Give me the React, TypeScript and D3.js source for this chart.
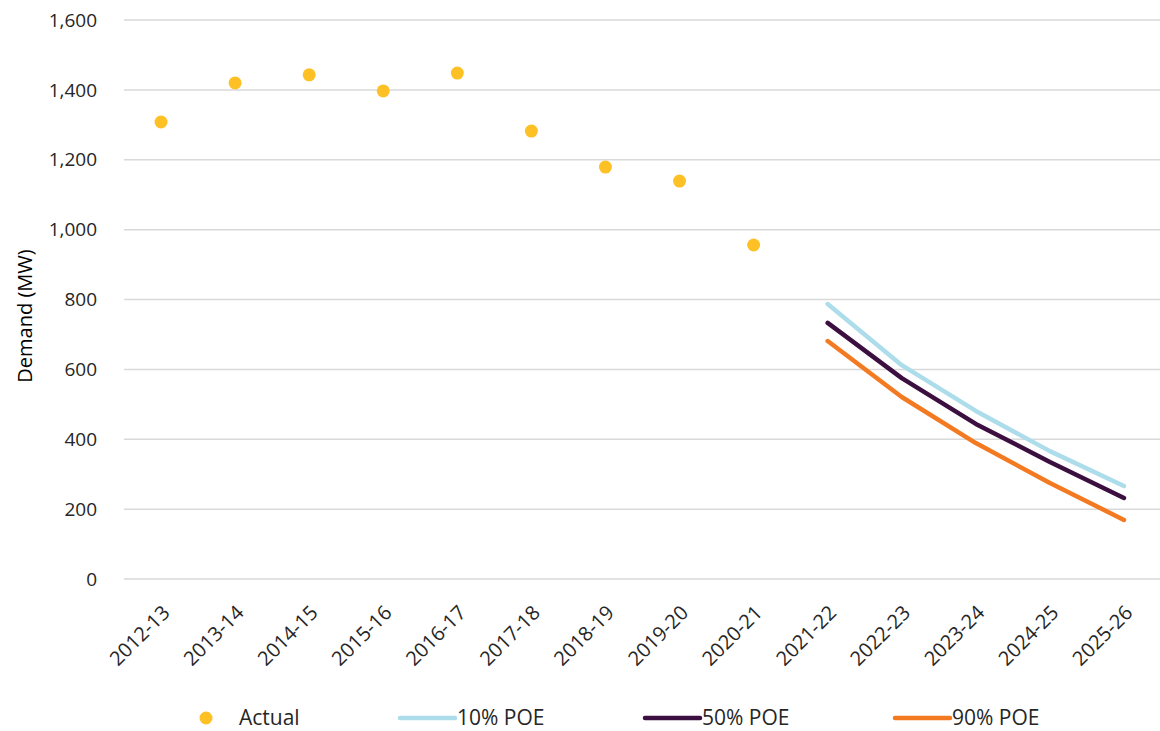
import React from "react";
import * as d3 from "d3";

const categories = [
  "2012-13", "2013-14", "2014-15", "2015-16", "2016-17", "2017-18", "2018-19",
  "2019-20", "2020-21", "2021-22", "2022-23", "2023-24", "2024-25", "2025-26",
];
const actualYears = categories.slice(0, 9);
const actualValues = [1308, 1420, 1443, 1397, 1448, 1282, 1179, 1139, 956];
const forecastYears = categories.slice(9);
const poe10 = [787, 612, 481, 366, 266];
const poe50 = [733, 575, 444, 335, 232];
const poe90 = [681, 521, 389, 275, 169];
const yTicks = [0, 200, 400, 600, 800, 1000, 1200, 1400, 1600];

const W = 1160;
const H = 731;
const left = 124;
const right = 1161;
const top = 20;
const bottom = 579;
const font = "'Segoe UI', 'Open Sans', 'Noto Sans', sans-serif";
const textColor = "#262626";

const x = d3.scaleBand<string>().domain(categories).range([left, right]).padding(0);
const y = d3.scaleLinear().domain([0, 1600]).range([bottom, top]);
const cx = (c: string) => (x(c) ?? 0) + x.bandwidth() / 2;

const lineGen = d3
  .line<[string, number]>()
  .x((d) => cx(d[0]))
  .y((d) => y(d[1]));

const forecastSeries = [
  { name: "10% POE", values: poe10, color: "#ADDDEB" },
  { name: "50% POE", values: poe50, color: "#3B0F3F" },
  { name: "90% POE", values: poe90, color: "#F47A22" },
];

const fmt = d3.format(",");

export default function App() {
  return (
    <svg width={W} height={H} style={{ display: "block", position: "absolute", left: 0, top: 0 }} fontFamily={font}>
      <rect width={W} height={H} fill="#fff" />
      {yTicks.map((t) => (
        <g key={t}>
          <line x1={left} x2={W} y1={y(t)} y2={y(t)} stroke="#d9d9d9" strokeWidth={1.5} />
          <text x={97} y={y(t)} dy="0.35em" textAnchor="end" fontSize={19} fill={textColor}>
            {fmt(t)}
          </text>
        </g>
      ))}
      <text
        transform={`translate(25, 316) rotate(-90)`}
        textAnchor="middle"
        dy="0.35em"
        fontSize={20}
        fill="#000"
      >
        Demand (MW)
      </text>
      {categories.map((c) => (
        <text
          key={c}
          transform={`translate(${cx(c) + 5}, 609) rotate(-45)`}
          textAnchor="end"
          dy="0.35em"
          fontSize={20}
          fill={textColor}
        >
          {c}
        </text>
      ))}
      {forecastSeries.map((s) => (
        <path
          key={s.name}
          d={lineGen(forecastYears.map((c, i) => [c, s.values[i]] as [string, number])) ?? ""}
          fill="none"
          stroke={s.color}
          strokeWidth={4.5}
          strokeLinecap="round"
          strokeLinejoin="round"
        />
      ))}
      {actualYears.map((c, i) => (
        <circle key={c} cx={cx(c)} cy={y(actualValues[i])} r={6.5} fill="#FEC125" />
      ))}
      <g fontSize={21} fill={textColor}>
        <circle cx={206} cy={718} r={6.5} fill="#FEC125" />
        <text x={239} y={718} dy="0.35em">Actual</text>
        {forecastSeries.map((s, i) => {
          const lx = [400, 645, 895][i];
          return (
            <g key={s.name}>
              <line x1={lx} x2={lx + 55} y1={718} y2={718} stroke={s.color} strokeWidth={4.5} strokeLinecap="round" />
              <text x={lx + 57} y={718} dy="0.35em">{s.name}</text>
            </g>
          );
        })}
      </g>
    </svg>
  );
}
